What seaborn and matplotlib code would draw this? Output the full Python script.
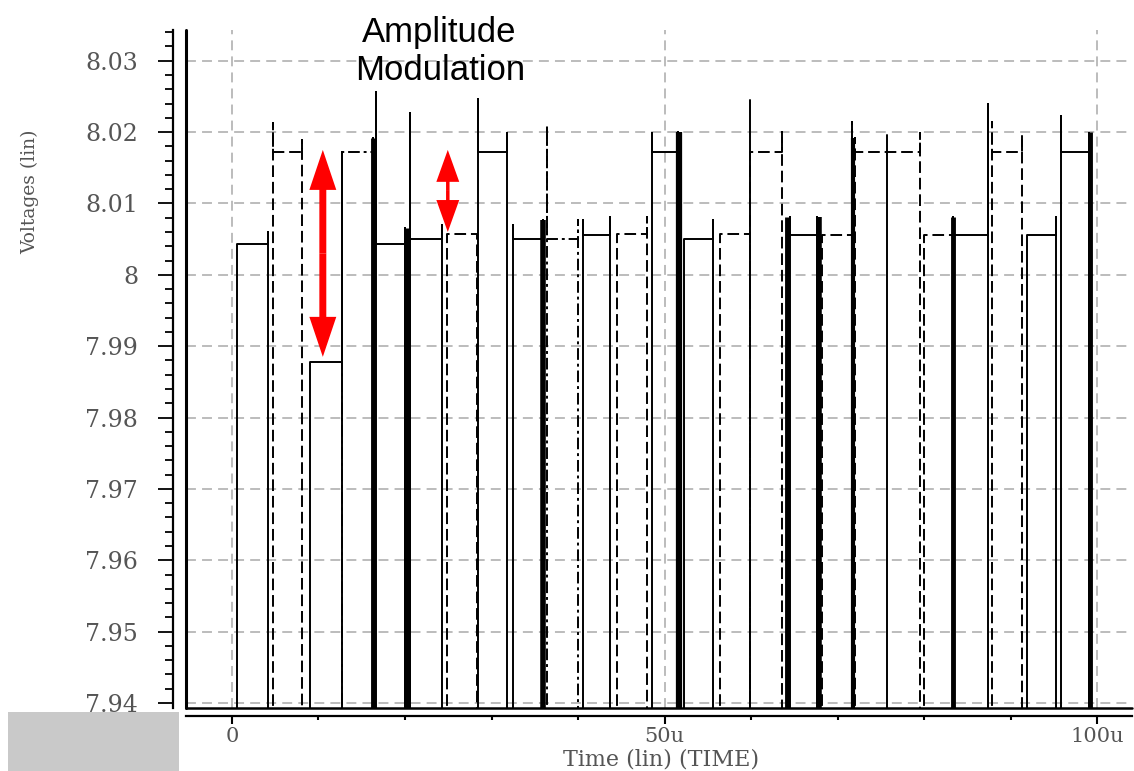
import numpy as np
import pandas as pd
import matplotlib
matplotlib.use("Agg")
import matplotlib.pyplot as plt
import seaborn as sns
from matplotlib.patches import FancyArrowPatch, Rectangle
from matplotlib.ticker import FixedLocator, FixedFormatter, MultipleLocator

# ---------------- data ----------------
# time in microseconds, voltage in volts
pulse_start = [0.58, 4.73, 9.01, 12.70, 16.63, 20.55, 24.83, 28.41, 32.45, 36.37, 40.53, 44.46,
               48.50, 52.19, 56.35, 59.82, 64.43, 68.13, 71.94, 80.02, 83.26, 87.88, 91.92, 95.84]
pulse_end = [4.16, 8.08, 12.70, 16.28, 19.98, 24.25, 28.29, 31.75, 35.91, 39.95, 43.65, 47.92,
             51.50, 55.54, 59.82, 63.51, 67.55, 71.59, 79.45, 83.26, 87.41, 91.34, 95.27, 99.08]
pulse_level = [8.00435, 8.01725, 7.98780, 8.01725, 8.00435, 8.00505, 8.00575, 8.01725, 8.00505,
               8.00505, 8.00561, 8.00575, 8.01725, 8.00505, 8.00575, 8.01725, 8.00561, 8.00561,
               8.01725, 8.00561, 8.00561, 8.01725, 8.00561, 8.01725]
pulse_peak_start = [8.00435, 8.02132, 7.98780, 8.01725, 8.02567, 8.02272, 8.00575, 8.02468, 8.00701,
                    8.02104, 8.00771, 8.00575, 8.01992, 8.00505, 8.00575, 8.01725, 8.00813, 8.00561,
                    8.01921, 8.00561, 8.00813, 8.02146, 8.00561, 8.02230]
pulse_peak_end = [8.00603, 8.01893, 8.01725, 8.01921, 8.00659, 8.00701, 8.00575, 8.01992, 8.00771,
                  8.00771, 8.00813, 8.00813, 8.02006, 8.00771, 8.00575, 8.02006, 8.00813, 8.02146,
                  8.01992, 8.00813, 8.02398, 8.01964, 8.00813, 8.01992]
pulse_trace = ["solid", "dashed", "solid", "dashdot", "solid", "solid", "dashed", "solid", "solid",
               "dashdot", "solid", "dashed", "solid", "solid", "dashed", "dashed", "solid", "dashed",
               "dashed", "dashed", "solid", "dashed", "solid", "solid"]

spike_time = [59.82, 75.64]
spike_peak = [8.02454, 8.01964]

burst_time = [16.28, 20.2, 35.95, 51.6, 64.1, 67.8, 71.8, 83.3, 99.1]
burst_peak = [8.01921, 8.00659, 8.00771, 8.02006, 8.00813, 8.00813, 8.01921, 8.00813, 8.02006]
burst_weight = [3.5, 5.0, 4.0, 4.5, 3.5, 4.0, 3.0, 3.5, 3.5]

arrow_time = [10.5, 24.94]
arrow_top = [8.0175, 8.0175]
arrow_bottom = [7.9885, 8.0060]

floor_voltage = 7.93
x_limits = [-5.31, 104.0]
y_limits = [7.9393, 8.0343]
x_major = [0, 50, 100]
x_major_labels = ["0", "50u", "100u"]
y_major = [7.94, 7.95, 7.96, 7.97, 7.98, 7.99, 8.00, 8.01, 8.02, 8.03]
y_major_labels = ["7.94", "7.95", "7.96", "7.97", "7.98", "7.99", "8", "8.01", "8.02", "8.03"]
title_lines = ["Amplitude", "Modulation"]
x_title = "Time (lin) (TIME)"
y_title = "Voltages (lin)"

# ---------------- figure ----------------
sns.set_style("ticks")
plt.rcParams["font.family"] = ["DejaVu Serif"]

W, H = 1134, 771
fig = plt.figure(figsize=(W / 100, H / 100), dpi=100)
ax = fig.add_axes([186 / W, 1 - 708 / H, (1132 - 186) / W, (708 - 30) / H])

# pulse traces
rows = []
for i, (t0, t1, lv, p0, p1, tr) in enumerate(zip(pulse_start, pulse_end, pulse_level,
                                                   pulse_peak_start, pulse_peak_end, pulse_trace)):
    path = [(t0, floor_voltage), (t0, max(p0, lv)), (t0, lv), (t1, lv), (t1, max(p1, lv)),
            (t1, floor_voltage)]
    for t, v in path:
        rows.append({"time": t, "voltage": v, "pulse": i, "trace": tr})
pulses = pd.DataFrame(rows)
dash_map = {"solid": "", "dashed": (6, 2.5), "dotted": (1, 1.6), "dashdot": (6, 2, 1.5, 2)}
sns.lineplot(data=pulses, x="time", y="voltage", units="pulse", style="trace", dashes=dash_map,
             estimator=None, sort=False, color="black", lw=1.4, legend=False, ax=ax, zorder=3)

# thin spikes
spk = pd.DataFrame({"time": np.repeat(spike_time, 2),
                    "voltage": np.ravel([[floor_voltage, p] for p in spike_peak]),
                    "unit": np.repeat(np.arange(len(spike_time)), 2)})
sns.lineplot(data=spk, x="time", y="voltage", units="unit", estimator=None, sort=False,
             color="black", lw=1.4, legend=False, ax=ax, zorder=3)

# thick bursts
for t, p, w in zip(burst_time, burst_peak, burst_weight):
    sns.lineplot(x=[t, t], y=[floor_voltage, p], estimator=None, sort=False, color="black",
                 lw=w, legend=False, ax=ax, zorder=3, solid_capstyle="butt")

ax.set_xlim(*x_limits)
ax.set_ylim(*y_limits)

# frame lines at the data edges
ax.axvline(x_limits[0], color="black", lw=2.2, clip_on=False, zorder=5)
ax.axhline(y_limits[0], color="black", lw=1.8, clip_on=False, zorder=5)

# red double arrows
for t, top, bot in zip(arrow_time, arrow_top, arrow_bottom):
    mid = (top + bot) / 2
    big = (top - bot) > 0.02
    hl, hw, tw = (28.8, 19.4, 5.0) if big else (23.0, 16.5, 2.5)
    for end in (top, bot):
        ax.add_patch(FancyArrowPatch((t, mid), (t, end),
                                     arrowstyle=f"simple,head_length={hl},head_width={hw},tail_width={tw}",
                                     mutation_scale=1, color="red", lw=0, shrinkA=0, shrinkB=0,
                                     zorder=6))

# ticks
ax.xaxis.set_major_locator(FixedLocator(x_major))
ax.xaxis.set_major_formatter(FixedFormatter(x_major_labels))
ax.xaxis.set_minor_locator(MultipleLocator(10))
ax.yaxis.set_major_locator(FixedLocator(y_major))
ax.yaxis.set_major_formatter(FixedFormatter(y_major_labels))
ax.yaxis.set_minor_locator(MultipleLocator(0.002))

ax.tick_params(axis="y", which="major", length=11, width=1.3, pad=14, labelsize=17,
               labelcolor="#555555", color="black")
ax.tick_params(axis="y", which="minor", length=5.8, width=1.3, color="black")
ax.tick_params(axis="x", which="major", length=5.5, width=1.5, pad=2.5, labelsize=15,
               labelcolor="#555555", color="black")
ax.tick_params(axis="x", which="minor", length=3, width=1.5, color="black")

ax.grid(True, which="major", color="#aaaaaa", lw=1.1, linestyle=(0, (6.5, 4)))
ax.set_axisbelow(True)

sns.despine(ax=ax, offset={"left": 9.4, "bottom": 5.8})
for s in ("left", "bottom"):
    ax.spines[s].set_linewidth(1.6)
    ax.spines[s].set_color("black")

ax.set_xlabel("")
ax.set_ylabel("")
fig.text(661 / W, 0.5 / H, x_title, ha="center", va="bottom", fontsize=16,
         color="#555555")
fig.text(30 / W, 1 - 192 / H, y_title, rotation=90, ha="center", va="center",
         fontsize=13.5, color="#555555")

# title
fig.text(439 / W, 1 - 42 / H, title_lines[0], ha="center", va="baseline", fontsize=25,
         family=["Liberation Sans", "DejaVu Sans"], color="black", zorder=7)
fig.text(440 / W, 1 - 80 / H, title_lines[1], ha="center", va="baseline", fontsize=25,
         family=["Liberation Sans", "DejaVu Sans"], color="black", zorder=7)

# gray box bottom-left
fig.add_artist(Rectangle((8 / W, 0), (179 - 8) / W, (771 - 712) / H, transform=fig.transFigure,
                         facecolor="#c9c9c9", edgecolor="none", zorder=8))

fig.savefig("out.png", dpi=100)
